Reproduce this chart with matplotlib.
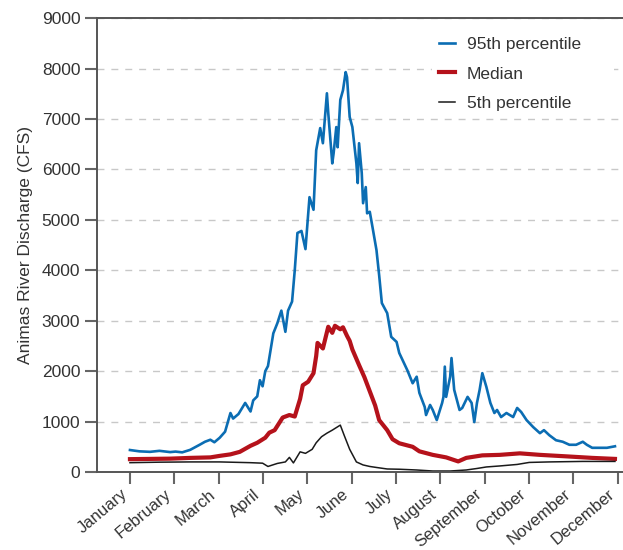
import matplotlib
matplotlib.use("Agg")
import matplotlib.pyplot as plt
import numpy as np

plt.rcParams['font.family'] = ['Liberation Sans', 'DejaVu Sans']

months = ["January", "February", "March", "April", "May", "June", "July",
          "August", "September", "October", "November", "December"]

# 95th percentile discharge (day of year, cfs)
p95_day = [1, 8, 16, 23, 31, 35, 40, 46, 53, 57, 61, 64, 68, 72, 76, 78, 82, 87,
           91, 93, 96, 98, 100, 102, 104, 108, 111, 114, 117, 119, 122, 124, 126,
           129, 132, 135, 138, 140, 143, 145, 148, 149, 152, 153, 155, 156, 158,
           160, 162, 163, 165, 167, 170, 171, 172, 174, 175, 177, 178, 180, 182,
           185, 187, 189, 193, 196, 200, 202, 208, 212, 215, 217, 221, 222, 225,
           227, 230, 234, 235, 236, 237, 240, 241, 243, 245, 247, 249, 253, 256,
           258, 260, 262, 264, 267, 270, 273, 275, 278, 282, 287, 290, 293, 297,
           302, 307, 310, 314, 319, 324, 329, 334, 339, 342, 346, 352, 357, 361, 363]
p95_cfs = [436, 410, 400, 420, 395, 405, 390, 440, 540, 600, 640, 590, 680, 800,
           1170, 1060, 1150, 1370, 1200, 1420, 1500, 1820, 1700, 2000, 2100, 2750,
           2950, 3200, 2780, 3200, 3380, 4000, 4740, 4780, 4420, 5450, 5200, 6380,
           6820, 6520, 7510, 7120, 6120, 6320, 6840, 6440, 7380, 7570, 7930, 7830,
           7040, 6840, 6120, 5730, 6520, 5930, 5330, 5650, 5130, 5160, 4860, 4400,
           3900, 3350, 3150, 2680, 2580, 2360, 2020, 1760, 1890, 1570, 1290, 1130,
           1330, 1230, 1030, 1370, 1490, 2090, 1490, 1890, 2260, 1630, 1430, 1230,
           1270, 1490, 1370, 990, 1370, 1630, 1960, 1690, 1370, 1170, 1230, 1090,
           1170, 1090, 1270, 1190, 1030, 890, 770, 830, 730, 630, 600, 540, 540,
           600, 540, 480, 480, 480, 500, 510]

# median discharge
med_day = [1, 16, 31, 46, 61, 68, 76, 83, 91, 96, 102, 105, 109, 115, 120, 124,
           128, 130, 134, 138, 140, 141, 145, 149, 152, 154, 158, 160, 163, 165,
           167, 172, 176, 180, 184, 187, 193, 197, 202, 212, 217, 227, 237, 246,
           252, 264, 277, 292, 307, 327, 346, 363]
med_cfs = [255, 260, 265, 280, 290, 320, 350, 400, 520, 580, 680, 780, 830, 1080,
           1130, 1100, 1450, 1720, 1790, 1960, 2300, 2560, 2450, 2880, 2760, 2900,
           2830, 2870, 2700, 2600, 2430, 2120, 1880, 1600, 1320, 1030, 830, 650,
           570, 500, 410, 340, 290, 210, 280, 330, 340, 370, 340, 310, 280, 260]

# 5th percentile discharge
p5_day = [1, 23, 46, 68, 91, 100, 104, 111, 117, 120, 123, 128, 132, 137, 140,
          144, 148, 152, 158, 161, 165, 170, 175, 180, 185, 193, 202, 215, 227,
          240, 252, 260, 267, 277, 290, 299, 314, 339, 363]
p5_cfs = [185, 195, 200, 200, 185, 175, 110, 170, 200, 290, 180, 400, 370, 450,
          580, 700, 770, 830, 930, 720, 450, 200, 140, 110, 90, 60, 55, 40, 20,
          20, 40, 70, 100, 120, 150, 190, 200, 210, 210]

fig = plt.figure(figsize=(6.23, 5.5), dpi=100)
ax = fig.add_axes([0.1557, 0.1418, 0.8443, 0.8252])

ax.plot(p95_day, p95_cfs, color="#0b6db3", lw=1.9, label="95th percentile")
ax.plot(med_day, med_cfs, color="#b5121b", lw=3.0, label="Median")
ax.plot(p5_day, p5_cfs, color="#1a1a1a", lw=1.1, label="5th percentile")

ax.set_xlim(-23.6, 369)
ax.set_ylim(0, 9000)
ax.set_yticks(np.arange(0, 9001, 1000))
ax.set_xticks(np.linspace(1, 365, 12))
ax.set_xticklabels(months, rotation=40, ha="right", rotation_mode="default")

ax.yaxis.grid(True, linestyle=(0, (5, 5)), color="#c8c8c8", lw=1.0)
ax.set_axisbelow(True)

ax.spines["right"].set_visible(False)
for s in ["left", "bottom", "top"]:
    ax.spines[s].set_color("#555555")
    ax.spines[s].set_linewidth(1.4)

ax.tick_params(axis="both", colors="#666666", length=8.5, width=1.5,
               labelsize=12.5, labelcolor="#333333")
ax.tick_params(axis="x", pad=2, labelsize=12)

ax.set_ylabel("Animas River Discharge (CFS)", fontsize=12.5, color="#333333",
              labelpad=6)

# white legend box stretched to the right edge so it masks the grid behind it
leg = ax.legend(loc="upper left", bbox_to_anchor=(0.62, 0.75, 0.38, 0.244),
                mode="expand", frameon=True, fontsize=12.5, handlelength=0.95,
                handletextpad=0.65, labelspacing=0.85, borderpad=0.4)
leg.get_frame().set_facecolor("white")
leg.get_frame().set_edgecolor("none")
leg.get_frame().set_alpha(1.0)
for t in leg.get_texts():
    t.set_color("#333333")

fig.savefig("out.png", dpi=100)
